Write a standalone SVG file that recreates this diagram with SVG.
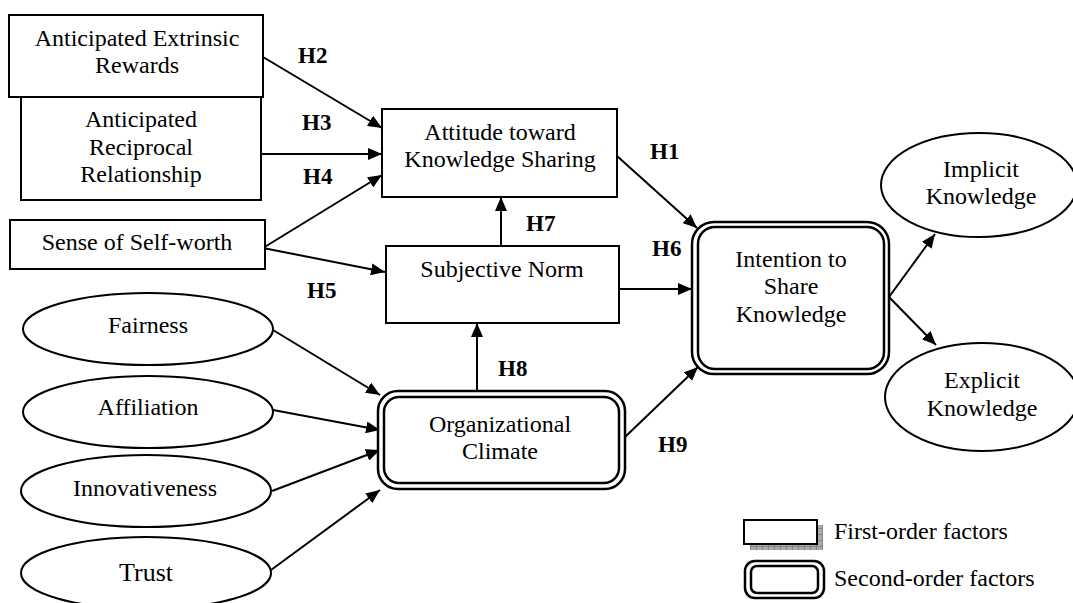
<svg xmlns="http://www.w3.org/2000/svg" width="1073" height="603" viewBox="0 0 1073 603">
<style>
.box{fill:#fff;stroke:#000;stroke-width:2}
.dbl{fill:none;stroke:#000;stroke-width:2.5}
.ell{fill:#fff;stroke:#000;stroke-width:2}
.t{font-family:"Liberation Serif","Times New Roman",serif;font-size:24px;fill:#000;text-anchor:middle}
.lt{font-family:"Liberation Serif","Times New Roman",serif;font-size:24px;fill:#000}
.h{font-family:"Liberation Serif","Times New Roman",serif;font-size:23px;font-weight:bold;fill:#000}
.c{fill:none;stroke:#000;stroke-width:2}
</style>
<defs>
<marker id="ah" viewBox="0 0 14 12" refX="14" refY="6" markerWidth="14" markerHeight="12" orient="auto" markerUnits="userSpaceOnUse">
<path d="M0,0 L14,6 L0,12 z" fill="#000"/>
</marker>
<pattern id="hatch" width="6" height="6" patternUnits="userSpaceOnUse">
<rect width="6" height="6" fill="#aaa"/>
<path d="M0,0 H6 M0,0 V6" stroke="#666" stroke-width="1"/>
</pattern>
</defs>
<rect width="1073" height="603" fill="#fff"/>

<g id="connectors">
<line class="c" x1="263" y1="57" x2="382" y2="128" marker-end="url(#ah)"/>
<line class="c" x1="261" y1="154" x2="382" y2="154" marker-end="url(#ah)"/>
<line class="c" x1="263" y1="248" x2="382" y2="175" marker-end="url(#ah)"/>
<line class="c" x1="263" y1="248" x2="385" y2="272" marker-end="url(#ah)"/>
<line class="c" x1="501" y1="246" x2="501" y2="197" marker-end="url(#ah)"/>
<line class="c" x1="617" y1="156" x2="697" y2="228" marker-end="url(#ah)"/>
<line class="c" x1="619" y1="289" x2="692" y2="289" marker-end="url(#ah)"/>
<line class="c" x1="477" y1="391" x2="477" y2="323" marker-end="url(#ah)"/>
<line class="c" x1="625" y1="437" x2="698" y2="367" marker-end="url(#ah)"/>
<line class="c" x1="273" y1="330" x2="380" y2="395" marker-end="url(#ah)"/>
<line class="c" x1="273" y1="410" x2="380" y2="430" marker-end="url(#ah)"/>
<line class="c" x1="272" y1="491" x2="380" y2="450" marker-end="url(#ah)"/>
<line class="c" x1="271" y1="570" x2="380" y2="490" marker-end="url(#ah)"/>
<line class="c" x1="889" y1="297" x2="935" y2="234" marker-end="url(#ah)"/>
<line class="c" x1="889" y1="297" x2="936" y2="345" marker-end="url(#ah)"/>
</g>

<g id="labels">
<text class="h" x="298" y="63">H2</text>
<text class="h" x="302" y="130">H3</text>
<text class="h" x="303" y="184">H4</text>
<text class="h" x="650" y="159">H1</text>
<text class="h" x="526" y="231">H7</text>
<text class="h" x="652" y="256">H6</text>
<text class="h" x="307" y="298">H5</text>
<text class="h" x="498" y="376">H8</text>
<text class="h" x="658" y="452">H9</text>
</g>

<g id="reciprocal">
<rect class="box" x="21" y="97" width="240" height="103"/>
<text class="t" x="141" y="127">Anticipated</text>
<text class="t" x="141" y="155">Reciprocal</text>
<text class="t" x="141" y="182">Relationship</text>
</g>
<g id="extrinsic">
<rect class="box" x="9" y="15" width="254" height="82"/>
<text class="t" x="137" y="46">Anticipated Extrinsic</text>
<text class="t" x="137" y="73">Rewards</text>
</g>
<g id="selfworth">
<rect class="box" x="10" y="220" width="255" height="49"/>
<text class="t" x="137" y="250">Sense of Self-worth</text>
</g>
<g id="attitude">
<rect class="box" x="382" y="109" width="235" height="88"/>
<text class="t" x="500" y="140">Attitude toward</text>
<text class="t" x="500" y="167">Knowledge Sharing</text>
</g>
<g id="subjective">
<rect class="box" x="386" y="246" width="233" height="77"/>
<text class="t" x="502" y="277">Subjective Norm</text>
</g>
<g id="intention">
<rect x="692" y="222" width="197" height="152" rx="22" fill="#fff"/>
<rect class="dbl" x="692" y="222" width="197" height="152" rx="22"/>
<rect class="dbl" x="698" y="227" width="186" height="142" rx="17"/>
<text class="t" x="791" y="267">Intention to</text>
<text class="t" x="791" y="294">Share</text>
<text class="t" x="791" y="322">Knowledge</text>
</g>
<g id="climate">
<rect x="378" y="391" width="247" height="98" rx="20" fill="#fff"/>
<rect class="dbl" x="378" y="391" width="247" height="98" rx="20"/>
<rect class="dbl" x="384" y="397" width="235" height="86" rx="15"/>
<text class="t" x="500" y="432">Organizational</text>
<text class="t" x="500" y="459">Climate</text>
</g>
<g id="fairness">
<ellipse class="ell" cx="148" cy="329" rx="125" ry="36"/>
<text class="t" x="148" y="333">Fairness</text>
</g>
<g id="affiliation">
<ellipse class="ell" cx="148" cy="412" rx="125" ry="36"/>
<text class="t" x="148" y="415">Affiliation</text>
</g>
<g id="innovativeness">
<ellipse class="ell" cx="146" cy="491" rx="125" ry="36"/>
<text class="t" x="145" y="496">Innovativeness</text>
</g>
<g id="trust">
<ellipse class="ell" cx="146" cy="573" rx="125" ry="36"/>
<text class="t" x="146" y="581" style="font-size:26px">Trust</text>
</g>
<g id="implicit">
<ellipse class="ell" cx="979" cy="185" rx="98" ry="52"/>
<text class="t" x="981" y="177">Implicit</text>
<text class="t" x="981" y="204">Knowledge</text>
</g>
<g id="explicit">
<ellipse class="ell" cx="982" cy="397" rx="97" ry="54"/>
<text class="t" x="982" y="388">Explicit</text>
<text class="t" x="982" y="416">Knowledge</text>
</g>

<g id="legend">
<rect x="750" y="525" width="73" height="25" fill="url(#hatch)"/>
<rect class="box" x="744" y="520" width="73" height="24"/>
<text class="lt" x="834" y="539">First-order factors</text>
<rect class="dbl" x="745" y="561" width="79" height="37" rx="10" fill="#fff"/>
<rect class="dbl" x="751" y="566" width="67" height="27" rx="6"/>
<text class="lt" x="834" y="586">Second-order factors</text>
</g>
</svg>
